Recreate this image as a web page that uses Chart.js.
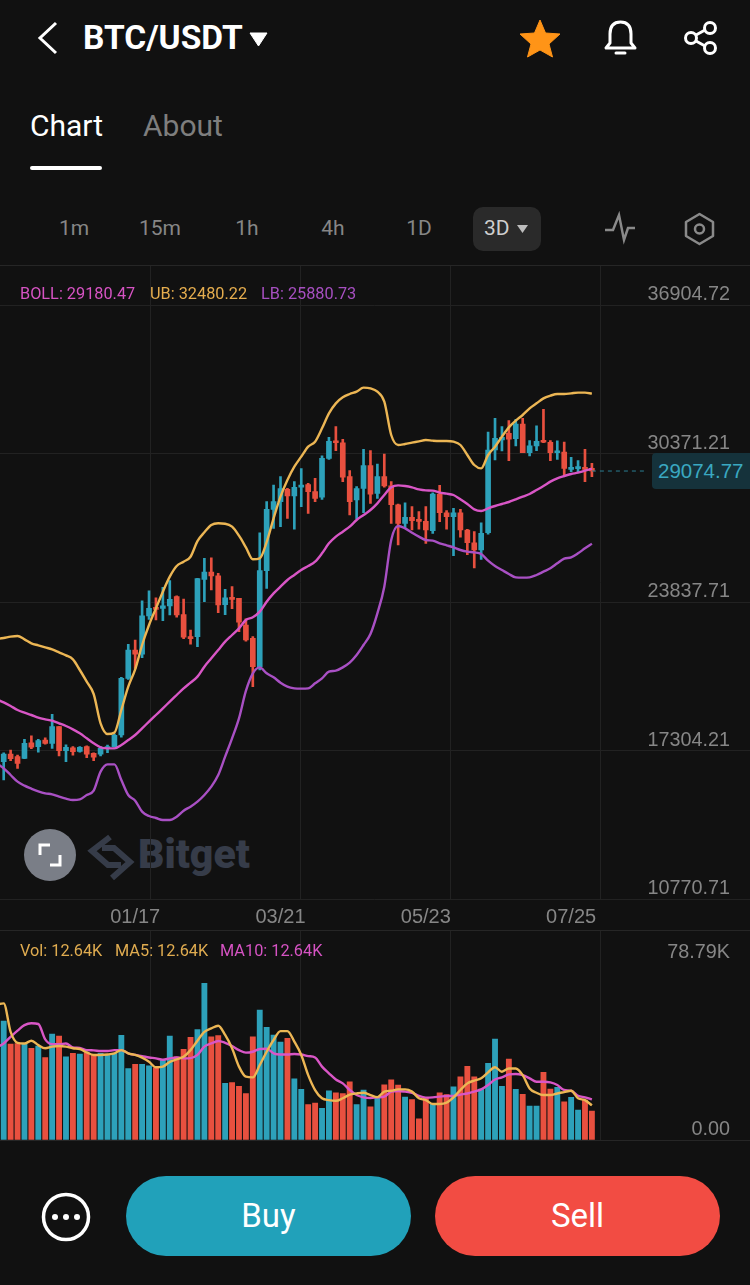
<!DOCTYPE html>
<html>
<head>
<meta charset="utf-8">
<title>BTC/USDT</title>
<script src="https://cdn.jsdelivr.net/npm/chart.js@4/dist/chart.umd.min.js"></script>
<style>
  html, body { margin: 0; padding: 0; background: #111; }
  #page { position: relative; width: 750px; height: 1285px; overflow: hidden; background: #111;
          font-family: Roboto, sans-serif; color: #fff; }
  #page > * { position: absolute; }
  .txt { white-space: nowrap; line-height: 1; }
  .rule { left: 0; width: 750px; height: 1px; background: #262626; }
  .legend { font-size: 16.3px; transform-origin: left center; }
  .interval { font-size: 21px; color: #868686; transform: translateX(-50%); }
  canvas { display: block; }
</style>
</head>
<body>
<div id="page">
  <!-- header -->
  <svg style="left:0;top:0" width="750" height="70" fill="none">
    <path d="M56 23 L40 38 L56 53" stroke="#fff" stroke-width="3"/>
    <path d="M250 33 H267 L258.500 46 Z" fill="#fff" stroke="#fff" stroke-width="1" stroke-linejoin="round"/>
    <path d="M540 20 L545.500 33 L560 34 L549 44 L552.500 57 L540 50 L527.500 57 L531 44 L520 34 L534.500 33 Z" fill="#ff9417" stroke="#ff9417" stroke-linejoin="round"/>
    <path d="M606 48 H635 L631 43 V34 C631 26 627 22 620.500 22 C614 22 610 26 610 34 V43 Z" stroke="#fff" stroke-width="3" stroke-linejoin="round"/>
    <path d="M616 53 H625" stroke="#fff" stroke-width="3" stroke-linecap="round"/>
    <circle cx="691" cy="38" r="5.500" stroke="#fff" stroke-width="3"/>
    <circle cx="710" cy="28" r="5.500" stroke="#fff" stroke-width="3"/>
    <circle cx="710" cy="48" r="5.500" stroke="#fff" stroke-width="3"/>
    <path d="M696 35 L705 30 M696 41 L705 46" stroke="#fff" stroke-width="3"/>
  </svg>
  <div class="txt" style="left:83px;top:20px;font-size:34px;font-weight:700;transform:scaleX(.985);transform-origin:left">BTC/USDT</div>
  <div class="txt" style="left:30px;top:111px;font-size:30px;">Chart</div>
  <div class="txt" style="left:143px;top:111px;font-size:30px;color:#7e7e7e">About</div>
  <div style="left:30px;top:166px;width:72px;height:4px;background:#fff;border-radius:2px"></div>

  <!-- intervals -->
  <div class="txt interval" style="left:74px;top:218px">1m</div>
  <div class="txt interval" style="left:160px;top:218px">15m</div>
  <div class="txt interval" style="left:247px;top:218px">1h</div>
  <div class="txt interval" style="left:333px;top:218px">4h</div>
  <div class="txt interval" style="left:419px;top:218px">1D</div>
  <div style="left:473px;top:207px;width:68px;height:44px;background:#2a2a2a;border-radius:10px"></div>
  <div class="txt" style="left:484px;top:218px;font-size:21px;color:#cfcfcf">3D</div>
  <svg style="left:515px;top:222px" width="16" height="14"><path d="M2 3 H13 L7.500 11 Z" fill="#bdbdbd"/></svg>
  <svg style="left:600px;top:210px" width="120" height="38" fill="none">
    <path d="M5 20 H13 L19 5 L24 30 L28 18 H35" stroke="#8a8a8a" stroke-width="2.500"/>
    <path d="M99.500 4 L113 12 V26 L99.500 34 L86 26 V12 Z" stroke="#8a8a8a" stroke-width="2.500" stroke-linejoin="round"/>
    <circle cx="99.500" cy="19" r="4.500" stroke="#8a8a8a" stroke-width="2.500"/>
  </svg>
  <div class="rule" style="top:265px"></div>

  <!-- watermark sits under the chart -->
  <div style="left:24px;top:829px;width:52px;height:52px;border-radius:26px;background:#7a7e87"></div>
  <svg style="left:24px;top:829px" width="230" height="52" fill="none">
    <path d="M16 26 V16 H26 M36 26 V36 H26" stroke="#fff" stroke-width="3"/>
    <path d="M86 8 L68 22 L84 36 L97 36 M88 49 L106 33 L90 19 L78 19" stroke="#363c49" stroke-width="6"/>
  </svg>
  <div class="txt" style="left:138px;top:834px;font-size:41px;font-weight:900;color:#363c49">Bitget</div>

  <div id="mainBox" style="left:-7px;top:266px"><canvas id="mainChart" width="762" height="664"></canvas></div>
  <div class="rule" style="top:930px"></div>
  <div id="volBox" style="left:-7px;top:931px"><canvas id="volChart" width="762" height="210"></canvas></div>

  <!-- legends -->
  <div class="txt legend" style="left:20px;top:286px;color:#d653c3">BOLL: 29180.47</div>
  <div class="txt legend" style="left:150px;top:286px;color:#e5ad4e">UB: 32480.22</div>
  <div class="txt legend" style="left:261px;top:286px;color:#a64fc0">LB: 25880.73</div>
  <div class="txt legend" style="left:20px;top:943px;color:#e0ac50">Vol: 12.64K</div>
  <div class="txt legend" style="left:115px;top:943px;color:#e0ac50">MA5: 12.64K</div>
  <div class="txt legend" style="left:220px;top:943px;color:#d653c3">MA10: 12.64K</div>

  <!-- last price tag -->
  <div style="left:652px;top:453px;width:98px;height:36px;background:#15323b;border-radius:4px 0 0 4px"></div>
  <div class="txt" style="left:658px;top:461px;font-size:20.500px;font-family:'Liberation Sans';color:#3aa8c1">29074.77</div>

  <!-- bottom bar -->
  <svg style="left:40px;top:1190px" width="52" height="52" fill="none">
    <circle cx="26" cy="27" r="22.500" stroke="#fff" stroke-width="3.500"/>
    <circle cx="15" cy="27" r="3" fill="#fff"/><circle cx="26" cy="27" r="3" fill="#fff"/><circle cx="37" cy="27" r="3" fill="#fff"/>
  </svg>
  <div class="txt" style="left:126px;top:1176px;width:285px;height:80px;line-height:80px;text-align:center;border-radius:40px;background:#21a1ba;font-size:33px">Buy</div>
  <div class="txt" style="left:435px;top:1176px;width:285px;height:80px;line-height:80px;text-align:center;border-radius:40px;background:#f24c43;font-size:33px">Sell</div>
</div>

<script>
// 3D candles, first entry sits just off the left edge so the lines reach it
const dates = ['11/18','11/21','11/24','11/27','11/30','12/03','12/06','12/09','12/12','12/15','12/18','12/21','12/24','12/27','12/30',
  '01/02','01/05','01/08','01/11','01/14','01/17','01/20','01/23','01/26','01/29','02/01','02/04','02/07','02/10','02/13','02/16','02/19',
  '02/22','02/25','02/28','03/03','03/06','03/09','03/12','03/15','03/18','03/21','03/24','03/27','03/30','04/02','04/05','04/08','04/11',
  '04/14','04/17','04/20','04/23','04/26','04/29','05/02','05/05','05/08','05/11','05/14','05/17','05/20','05/23','05/26','05/29','06/01',
  '06/04','06/07','06/10','06/13','06/16','06/19','06/22','06/25','06/28','07/01','07/04','07/07','07/10','07/13','07/16','07/19','07/22',
  '07/25','07/28','07/31','08/03'];
const shownDates = ['01/17', '03/21', '05/23', '07/25'];

const opens = [null,16290,16620,16510,16430,17120,16950,17240,17090,17830,16770,16890,16740,16950,16650,16620,16860,16950,17460,19950,21200,
  21020,22700,23080,23030,23140,23550,22755,21790,21790,24310,24630,24460,23200,23470,23470,22300,21710,20470,24690,27390,27730,28270,27980,
  28360,28475,28170,27920,29630,30380,30320,28830,27800,28310,29310,28090,28830,28420,27590,26770,27040,26920,26860,26450,28060,27240,27070,
  27240,26480,25920,25600,26360,30000,30440,30730,30500,31140,29880,30180,30380,30340,29880,29910,29150,29180,29240,29190];
const closes = [null,16620,16420,16210,17090,16920,17210,17090,17830,16770,16920,16730,16920,16620,16480,16870,16920,17445,19950,21200,21020,
  22700,23030,22990,23140,23430,22740,21760,21700,24340,24630,24460,23180,23490,23430,22420,21640,20470,24690,27390,27730,28300,27980,28360,
  28460,28170,27870,29630,30380,30320,28800,27730,28300,29310,28060,28830,28420,27590,26770,27040,26890,26860,26480,28060,27240,27070,27240,
  26480,25920,25600,26330,30000,30510,30560,30480,31140,29880,30180,30380,30340,29880,29910,29190,29190,29240,29150,29074.77];
const highs = [null,16680,16800,16580,17270,17420,17270,17330,18370,17830,17030,16950,16950,16980,16680,16950,17020,17500,20000,21450,21640,
  23360,23800,23490,23960,24250,23580,23440,22080,24350,25230,25250,24570,23870,23990,23470,22570,21790,26360,27730,28460,28830,28310,28610,
  29180,28530,28750,29740,30560,31030,30470,29090,28390,30030,29970,29380,29820,28610,27620,27680,27510,27290,27510,28120,28445,27330,27430,
  27390,26510,26410,26800,30790,31390,31030,31290,31350,31390,30410,31060,31790,30410,30400,30350,29680,29530,30030,29410];
const lows = [null,15480,16330,15990,16420,16860,16700,17060,16870,16540,16290,16570,16710,16460,16330,16540,16680,16920,17360,19910,20390,
  20860,22550,22520,22490,22740,22640,21700,21460,21350,23330,23840,22840,22755,23020,22010,21590,19590,20320,23910,26550,26630,26990,26520,
  27510,27210,27730,27830,29590,29970,28610,27140,26980,27240,27650,27870,28360,26770,25820,26550,26480,26520,25890,26330,26850,26520,25350,
  26160,25395,24810,25190,26300,29560,29960,29530,30180,29880,29740,29970,30320,29530,29590,28860,29050,29020,28610,28830];

const boll = [19030,18897,18736,18560,18443,18340,18223,18149,18091,17973,17856,17709,17533,17313,17093,16917,16873,16873,17020,17240,17460,
  17753,18047,18340,18633,18927,19220,19513,19763,20027,20467,20833,21200,21567,21860,22153,22520,22637,22887,23327,23693,23987,24280,24500,
  24720,24896,25087,25453,25893,26187,26407,26627,26920,27140,27360,27653,28020,28357,28445,28416,28357,28269,28225,28211,28123,28079,28020,
  27829,27624,27389,27316,27433,27536,27624,27712,27829,27947,28064,28240,28416,28607,28753,28856,28944,29003,29091,29180.47];
const upperBand = [21684,21728,21787,21816,21669,21493,21405,21317,21229,21097,20965,20789,20320,19807,19264,17973,17504,17563,18560,19587,20349,
  21420,22300,23033,23767,24427,24896,25087,25305,25990,26379,26700,26775,26757,26625,26229,25719,25191,25235,25950,26993,27947,28680,29267,
  29707,30147,30367,30953,31613,32053,32317,32464,32567,32743,32713,32567,32127,30660,30220,30264,30323,30381,30440,30411,30396,30396,30367,
  30220,29780,29340,29193,29780,30147,30587,30997,31291,31540,31833,32053,32273,32391,32464,32464,32493,32523,32523,32480.22];
const lowerBand = [16213,15993,15700,15407,15231,15099,14981,14893,14849,14747,14659,14600,14629,14820,15011,15847,16169,16169,15480,14820,14571,
  14087,13896,13808,13720,13720,13867,14131,14307,14527,14820,15187,15700,16507,17313,18193,19400,20173,20437,20173,19997,19763,19587,19513,
  19499,19513,19733,19953,20247,20291,20437,20643,20980,21420,21904,22813,23987,26040,26656,26553,26363,26187,26040,26011,25893,25805,25717,
  25600,25527,25497,25424,25131,24896,24720,24544,24397,24383,24397,24500,24647,24793,25013,25219,25277,25453,25673,25880.73];

const volumes = [null,51.9,41.8,42.1,41.8,40.0,41.0,36.0,46.2,45.3,36.3,37.8,37.5,38.1,37.1,37.8,37.1,37.8,45.6,31.2,33.0,33.0,32.4,31.5,34.9,45.3,
  36.3,39.5,44.8,48.2,68.3,45.0,45.5,24.7,25.0,23.4,20.3,45.0,56.7,49.1,45.8,42.7,44.3,26.7,22.1,15.4,16.1,13.8,21.5,20.6,20.3,25.4,15.4,21.8,
  14.5,18.2,24.1,26.2,24.0,18.7,17.6,9.2,18.5,16.0,20.6,19.8,23.2,27.6,32.1,27.6,22.2,33.4,44.0,23.4,35.3,22.1,19.9,14.8,14.8,29.5,22.2,23.0,
  16.7,18.6,13.1,17.4,12.64];
const ma5 = [59.1,59.6,47.2,42.4,42.1,43.3,41.4,40.0,40.7,41.0,40.7,40.0,39.7,38.2,37.1,37.1,37.3,37.8,39.2,37.8,37.1,35.9,34.1,31.7,32.0,34.1,35.2,
  36.3,39.2,43.3,47.2,48.7,49.8,45.8,40.0,32.0,27.6,27.3,32.7,38.5,43.6,47.5,47.5,42.9,37.1,28.3,21.8,18.2,17.4,17.1,18.2,19.8,20.3,20.6,19.6,
  18.7,21.1,21.5,22.1,22.1,21.1,18.2,17.4,15.7,15.7,16.3,18.6,21.8,24.7,25.9,26.9,29.5,31.7,29.8,31.2,31.2,28.3,22.5,20.6,19.6,19.6,20.3,20.9,
  21.5,18.2,17.4,15.1];
const ma10 = [40.4,42.1,45.0,47.7,50.1,50.9,50.6,43.9,41.8,41.8,42.1,40.4,40.2,39.2,39.1,38.8,38.8,39.2,39.2,37.8,37.1,36.6,36.0,35.6,35.0,35.6,36.0,
  35.6,35.7,37.1,40.7,42.1,43.2,42.4,41.0,39.2,38.1,38.5,39.7,39.8,37.8,37.3,37.3,37.5,37.3,36.6,36.0,32.0,29.1,26.4,24.7,21.8,19.6,18.6,18.3,
  18.6,18.9,21.1,21.4,21.1,20.6,19.2,18.5,18.6,18.9,19.2,19.2,19.8,20.3,21.1,22.1,24.0,26.4,27.3,28.6,28.8,28.3,26.9,25.4,25.4,25.1,24.0,21.8,
  21.5,19.3,18.6,17.7];

// gridlines sit one label height under the printed prices, as in the app
const priceGrid = [36380, 29846, 23312, 16778, 10244];
const priceLabels = ['36904.72', '30371.21', '23837.71', '17304.21', '10770.71'];
const volGrid = [0, 77.2];
const volLabels = ['0.00', '78.79K'];
const lastPrice = 29074.77;

const UP = '#2da1ba', DOWN = '#e8503f', YELLOW = '#ecb654', PINK = '#d956c6', PURPLE = '#a950c4';
const TICK = '#868686', GRID = '#222222';
const TOTAL_BINS = 110;
const CANVAS_SHIFT = 7; // canvases start 7px left of the page

// the axis also runs on past the last candle, toward the price column
const categories = [];
for (let i = 0; i < TOTAL_BINS; i++) categories.push(dates[i] || ' ' + i);
const barColors = opens.map((o, i) => closes[i] >= o ? UP : DOWN);
const lastPriceLine = categories.map((c, i) => (i === 86 || i === 94) ? lastPrice : null);

Chart.defaults.font.family = "'Liberation Sans', sans-serif";
Chart.defaults.animation = false;

const columnLines = {
  id: 'columnLines',
  beforeDatasetsDraw(chart) {
    const c = chart.ctx;
    c.save();
    c.strokeStyle = GRID;
    c.lineWidth = 1;
    [150, 300, 450, 600].forEach(x => {
      c.beginPath();
      c.moveTo(x + CANVAS_SHIFT + 0.5, 0);
      c.lineTo(x + CANVAS_SHIFT + 0.5, chart.chartArea.bottom);
      c.stroke();
    });
    c.restore();
  }
};

function bandLine(data, color) {
  return { type: 'line', data: data, borderColor: color, borderWidth: 2.4, pointRadius: 0,
           cubicInterpolationMode: 'monotone', order: 0 };
}

function noScalePadding(s) {
  s.paddingLeft = s.paddingRight = s.paddingTop = s.paddingBottom = 0;
}

function yAxis(grid, labels, min, max, gridColor) {
  return {
    position: 'right',
    min: min,
    max: max,
    afterFit(s) { s.width = 0; noScalePadding(s); },
    afterBuildTicks(s) { s.ticks = grid.map(v => ({ value: v })); },
    border: { display: false },
    grid: { color: gridColor, drawTicks: false },
    ticks: {
      mirror: true,
      padding: -24.5,
      labelOffset: -10,
      color: TICK,
      font: { size: 19.8 },
      autoSkip: false,
      callback: (v, i) => labels[i]
    }
  };
}

new Chart(document.getElementById('mainChart'), {
  type: 'bar',
  data: {
    labels: categories,
    datasets: [
      bandLine(upperBand, YELLOW),
      bandLine(boll, PINK),
      bandLine(lowerBand, PURPLE),
      { type: 'line', data: lastPriceLine, borderColor: '#2b7f93', borderWidth: 1, borderDash: [4, 4],
        pointRadius: 0, spanGaps: true, order: 0 },
      { data: opens.map((o, i) => o === null ? null : [o, closes[i]]), backgroundColor: barColors,
        barThickness: 5, minBarLength: 2, grouped: false, order: 1 },
      { data: highs.map((h, i) => h === null ? null : [lows[i], h]), backgroundColor: barColors,
        barThickness: 2, grouped: false, order: 2 }
    ]
  },
  options: {
    responsive: false,
    layout: { padding: { left: 0.32, right: 0.48, top: 39, bottom: 0 } },
    plugins: { legend: { display: false }, tooltip: { enabled: false } },
    scales: {
      x: {
        grid: { display: false, drawTicks: false },
        border: { display: false },
        afterFit(s) { s.height = 31; noScalePadding(s); },
        ticks: {
          autoSkip: false,
          maxRotation: 0,
          padding: 6,
          color: TICK,
          font: { size: 20 },
          callback(v) {
            const d = categories[v];
            return shownDates.includes(d) ? d : '';
          }
        }
      },
      y: yAxis(priceGrid, priceLabels, 10244, 36380, GRID)
    }
  },
  plugins: [columnLines]
});

new Chart(document.getElementById('volChart'), {
  type: 'bar',
  data: {
    labels: categories,
    datasets: [
      bandLine(ma5, YELLOW),
      bandLine(ma10, PINK),
      { data: volumes, backgroundColor: barColors, barThickness: 5.200, grouped: false, order: 1 }
    ]
  },
  options: {
    responsive: false,
    layout: { padding: { left: 0.32, right: 0.48, top: 32, bottom: 1 } },
    plugins: { legend: { display: false }, tooltip: { enabled: false } },
    scales: {
      x: { display: false, afterFit(s) { s.height = 0; noScalePadding(s); } },
      // only the baseline is ruled in the volume pane
      y: yAxis(volGrid, volLabels, 0, 77.2, c => c.tick && c.tick.value === 0 ? '#262626' : 'transparent')
    }
  },
  plugins: [columnLines]
});
</script>
</body>
</html>
